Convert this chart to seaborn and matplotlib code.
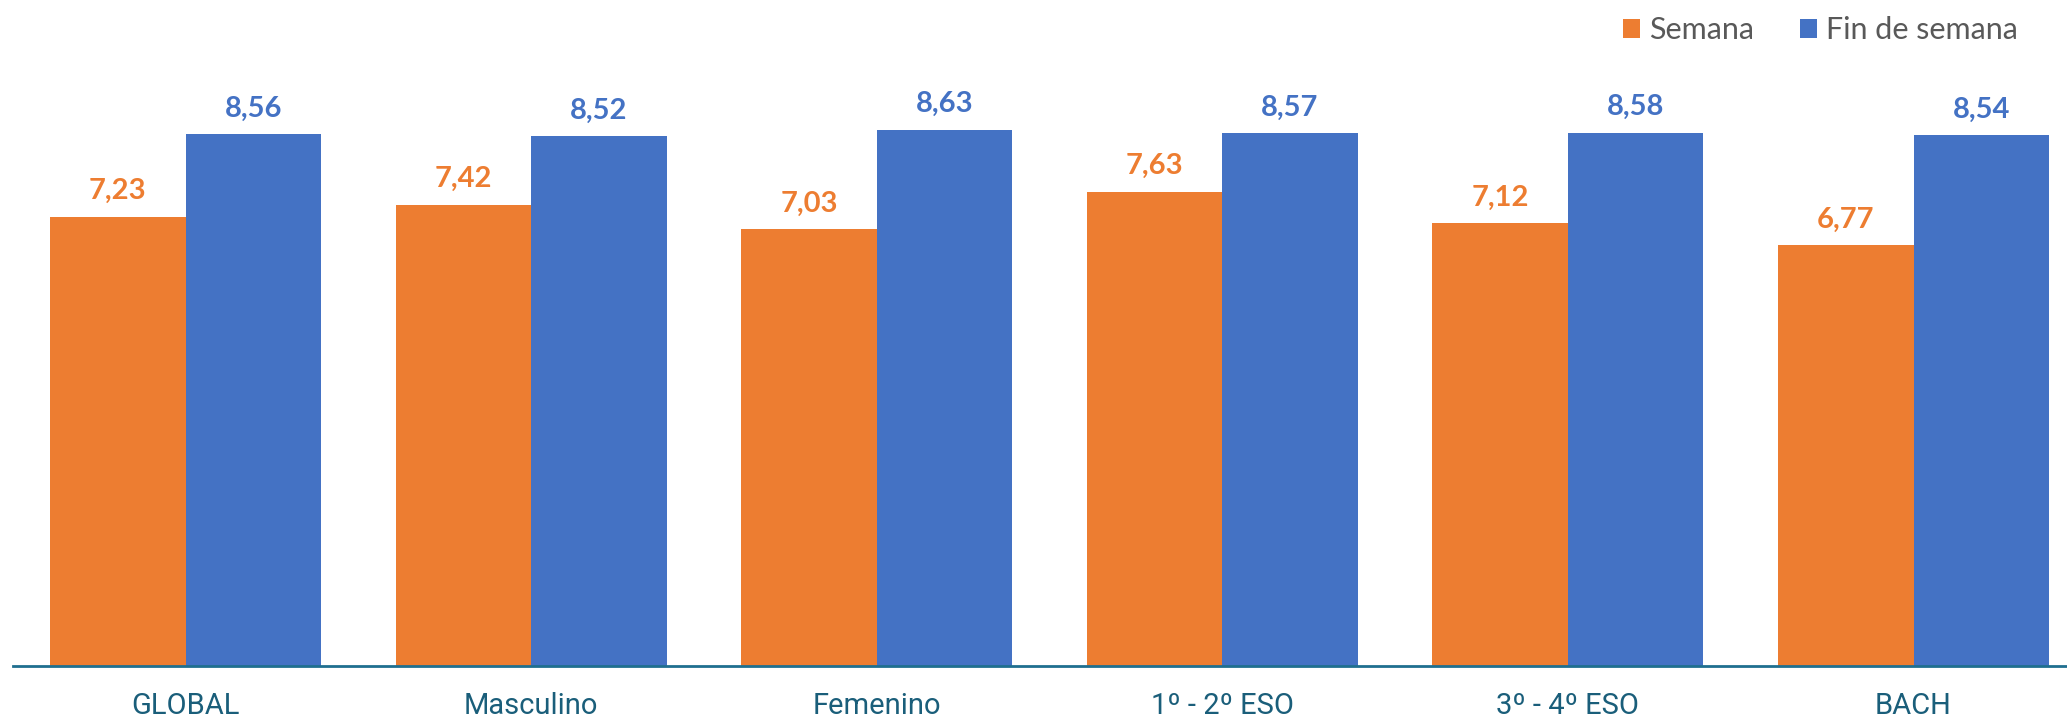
import matplotlib
matplotlib.use("Agg")
import matplotlib.pyplot as plt
import seaborn as sns
import pandas as pd

categories = ["GLOBAL", "Masculino", "Femenino", "1º - 2º ESO", "3º - 4º ESO", "BACH"]
semana = [7.23, 7.42, 7.03, 7.63, 7.12, 6.77]
fin_semana = [8.56, 8.52, 8.63, 8.57, 8.58, 8.54]
series_names = ["Semana", "Fin de semana"]
colors = ["#ED7D31", "#4472C4"]

df = pd.DataFrame({
    "cat": categories * 2,
    "serie": [series_names[0]] * len(categories) + [series_names[1]] * len(categories),
    "val": semana + fin_semana,
})

sns.set_theme(style="white")
plt.rcParams["font.family"] = ["Lato", "DejaVu Sans"]

W, H = 2067, 717
fig = plt.figure(figsize=(W / 100, H / 100), dpi=100)
left = 12.7 / W
bottom = 1 - 666 / H
height = 621.5 / H
ax = fig.add_axes([left, bottom, 1 - left, height])

sns.barplot(data=df, x="cat", y="val", hue="serie", palette=colors, width=0.784,
            gap=0, saturation=1, ax=ax, order=categories, hue_order=series_names,
            linewidth=0, edgecolor="none")

ax.set_ylim(0, 10)
ax.set_xlim(-0.5, -0.5 + (W - 12.7) / 345.6)
ax.set_xlabel("")
ax.set_ylabel("")
ax.set_yticks([])
for s in ["top", "left", "right"]:
    ax.spines[s].set_visible(False)
ax.spines["bottom"].set_color("#1f6f8f")
ax.spines["bottom"].set_linewidth(2)
ax.tick_params(axis="x", length=0, pad=19, labelsize=21, labelcolor="#1a5e7a")
for t in ax.get_xticklabels():
    t.set_fontfamily(["Roboto", "DejaVu Sans"])

for cont, col in zip(ax.containers, colors):
    labs = [f"{v:.2f}".replace(".", ",") for v in cont.datavalues]
    ax.bar_label(cont, labels=labs, padding=9, color=col, fontsize=21, fontweight="bold")

sns.move_legend(ax, "upper right", bbox_to_anchor=(2030 / W, 1 - 4 / H), bbox_transform=fig.transFigure,
                ncol=2, frameon=False, title=None, fontsize=22, handlelength=0.55,
                handleheight=0.55, handletextpad=0.3, columnspacing=1.5,
                borderaxespad=0)
for t in ax.get_legend().get_texts():
    t.set_color("#595959")

fig.savefig("out.png", dpi=100)
